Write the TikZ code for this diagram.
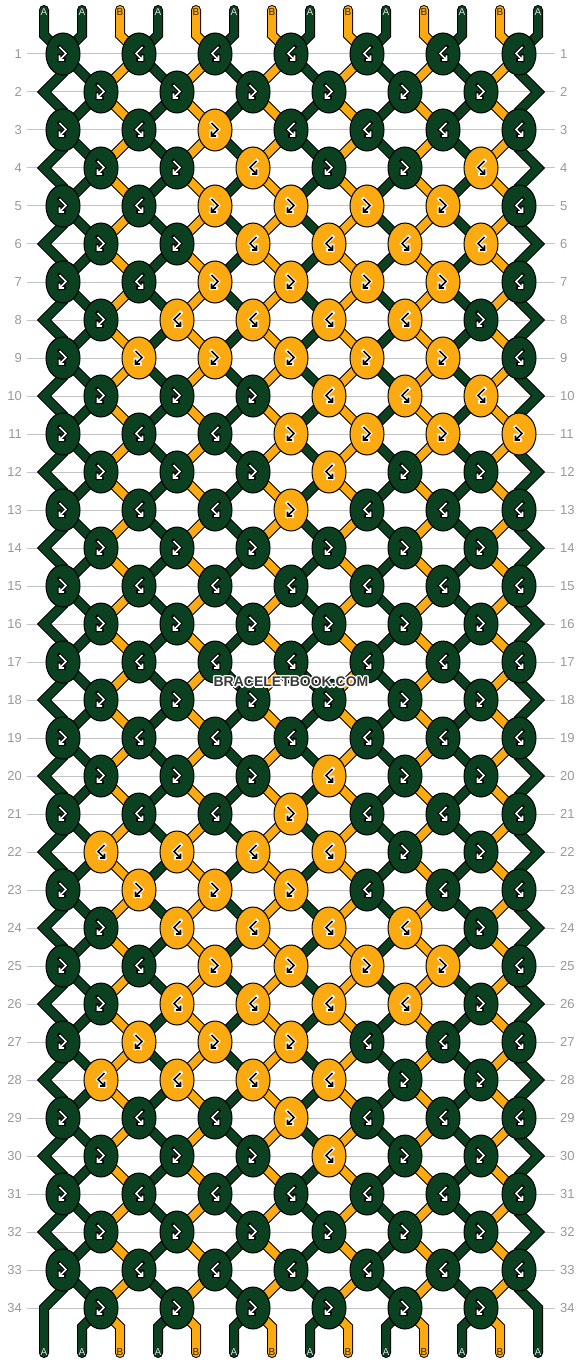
\documentclass[tikz,border=0pt]{standalone}
\usepackage{fontspec}
\setmainfont{Liberation Sans}
\usetikzlibrary{shapes.geometric,calc}
\definecolor{bgreen}{HTML}{0B4121}
\definecolor{borange}{HTML}{FCAA12}
\definecolor{rowgray}{HTML}{999999}
\definecolor{linegray}{HTML}{C4C4C4}
\definecolor{wmgray}{HTML}{3A3A3A}
\newcommand\wmtext{BRACELETBOOK.COM}
\newcommand\wmhalo[2]{\rlap{\kern#1pt\raisebox{#2pt}{\textcolor{white}{\wmtext}}}}
\begin{document}
\begin{tikzpicture}[x=1pt,y=-1pt,
  strandG/.style={draw=black,line width=1pt,double=bgreen,double distance=8pt,line cap=round,line join=miter},
  strandO/.style={draw=black,line width=1pt,double=borange,double distance=8pt,line cap=round,line join=miter},
  knotbox/.style={ellipse,draw=black,line width=1pt,minimum width=34pt,minimum height=42pt,inner sep=0pt},
  rowlab/.style={text=rowgray,font=\fontsize{13}{13}\selectfont,inner sep=0pt},
  strlab/.style={font=\fontsize{10}{10}\selectfont,inner sep=0pt},
  glyphout/.style={line width=3.6pt,line cap=rect,line join=miter},
  glyphin/.style={line width=1.6pt,line cap=butt,line join=miter}]
\path[use as bounding box,fill=white] (0,0) rectangle (582,1364);
% knot positions
\foreach \r in {1,...,34}{
  \pgfmathsetmacro\yy{54+38*(\r-1)}
  \ifodd\r\relax
    \foreach \k in {0,...,6}{\coordinate (p-\r-\k) at ({63+76*\k},\yy);}
  \else
    \foreach \k in {0,...,5}{\coordinate (p-\r-\k) at ({101+76*\k},\yy);}
  \fi
}
% grid lines and row numbers
\foreach \r in {1,...,34}{
  \pgfmathsetmacro\yy{54+38*(\r-1)}
  \draw[linegray,line width=1pt] (27,\yy) -- (555,\yy);
  \node[rowlab,anchor=east] (ll-\r) at (22,\yy) {\r};
  \node[rowlab,anchor=west] (rl-\r) at (560,\yy) {\r};
}
% top strings
\foreach \k in {0,...,6}{
  \ifnum\k=0
    \draw[strandG] (p-1-\k) -- ++(-19,-19) -- ++(0,-25);
  \else
    \draw[strandO] (p-1-\k) -- ++(-19,-19) -- ++(0,-25);
  \fi
  \draw[strandG] (p-1-\k) -- ++(19,-19) -- ++(0,-25);
}
% strands between rows
\foreach \r in {1,...,33}{
  \pgfmathtruncatemacro\n{\r+1}
  \foreach \k in {0,...,5}{
    \pgfmathtruncatemacro\kk{\k+1}
    \draw[strandG] (p-\r-\k) -- (p-\n-\k);
    \ifodd\r\relax
      \draw[strandO] (p-\r-\kk) -- (p-\n-\k);
    \else
      \draw[strandO] (p-\r-\k) -- (p-\n-\kk);
    \fi
  }
}
% edge strands
\foreach \r in {1,3,...,31}{
  \pgfmathtruncatemacro\n{\r+2}
  \draw[strandG] (p-\r-0) -- ++(0,19) -- ++(-19,19) -- ++(19,19) -- (p-\n-0);
  \draw[strandG] (p-\r-6) -- ++(0,19) -- ++(19,19) -- ++(-19,19) -- (p-\n-6);
}
% bottom strings
\draw[strandG] (p-33-0) -- ++(0,19) -- ++(-19,19) -- ++(0,45);
\draw[strandG] (p-33-6) -- ++(0,19) -- ++(19,19) -- ++(0,45);
\foreach \k in {0,...,5}{
  \draw[strandG] (p-34-\k) -- ++(-19,19) -- ++(0,26);
  \draw[strandO] (p-34-\k) -- ++(19,19) -- ++(0,26);
}
% string labels
\foreach \i in {0,...,13}{
  \pgfmathtruncatemacro\isb{(\i>0 && mod(\i,2)==0) ? 1 : 0}
  \ifnum\isb=1
    \node[strlab,text=black!85] (tl-\i) at ({44+38*\i},12.5) {B};
    \node[strlab,text=black!85] (bl-\i) at ({44+38*\i},1352.5) {B};
  \else
    \node[strlab,text=white!85!black] (tl-\i) at ({44+38*\i},12.5) {A};
    \node[strlab,text=white!85!black] (bl-\i) at ({44+38*\i},1352.5) {A};
  \fi
}
% knots
\foreach \r/\pat in {
 1/{0,0,0,0,0,0,0}, 2/{0,0,0,0,0,0}, 3/{0,0,1,0,0,0,0}, 4/{0,0,1,0,0,1},
 5/{0,0,1,1,1,1,0}, 6/{0,0,1,1,1,1}, 7/{0,0,1,1,1,1,0}, 8/{0,1,1,1,1,0},
 9/{0,1,1,1,1,1,0}, 10/{0,0,0,1,1,1}, 11/{0,0,0,1,1,1,1}, 12/{0,0,0,1,0,0},
 13/{0,0,0,1,0,0,0}, 14/{0,0,0,0,0,0}, 15/{0,0,0,0,0,0,0}, 16/{0,0,0,0,0,0},
 17/{0,0,0,0,0,0,0}, 18/{0,0,0,0,0,0}, 19/{0,0,0,0,0,0,0}, 20/{0,0,0,1,0,0},
 21/{0,0,0,1,0,0,0}, 22/{1,1,1,1,0,0}, 23/{0,1,1,1,0,0,0}, 24/{0,1,1,1,1,0},
 25/{0,0,1,1,1,1,0}, 26/{0,1,1,1,1,0}, 27/{0,1,1,1,0,0,0}, 28/{1,1,1,1,0,0},
 29/{0,0,0,1,0,0,0}, 30/{0,0,0,1,0,0}, 31/{0,0,0,0,0,0,0}, 32/{0,0,0,0,0,0},
 33/{0,0,0,0,0,0,0}, 34/{0,0,0,0,0,0}}{
  \foreach \c [count=\k from 0] in \pat {
    \ifodd\r\relax
      \pgfmathtruncatemacro\g{(\c==1 || \k==0) ? 1 : -1}
    \else
      \pgfmathtruncatemacro\g{(\c==0) ? 1 : -1}
    \fi
    \ifnum\c=1
      \node[knotbox,fill=borange] (k-\r-\k) at (p-\r-\k) {};
      \draw[shift={(p-\r-\k)},xscale=\g,glyphout,white] (-3.5,-7) -- (3,-0.5) -- (-3.5,6) (-3.5,1.5) -- (-3.5,6) -- (1,6);
      \draw[shift={(p-\r-\k)},xscale=\g,glyphin,black] (-3.5,-7) -- (3,-0.5) -- (-3.5,6) (-3.5,1.5) -- (-3.5,6) -- (1,6);
    \else
      \node[knotbox,fill=bgreen] (k-\r-\k) at (p-\r-\k) {};
      \draw[shift={(p-\r-\k)},xscale=\g,glyphout,black] (-3.5,-7) -- (3,-0.5) -- (-3.5,6) (-3.5,1.5) -- (-3.5,6) -- (1,6);
      \draw[shift={(p-\r-\k)},xscale=\g,glyphin,white] (-3.5,-7) -- (3,-0.5) -- (-3.5,6) (-3.5,1.5) -- (-3.5,6) -- (1,6);
    \fi
  }
}
% watermark (single node, white halo built inside it)
\node[font=\bfseries\fontsize{14}{14}\selectfont,inner sep=0pt] (wm) at (291,682)
  {\wmhalo{-1}{-1}\wmhalo{-1}{0}\wmhalo{-1}{1}\wmhalo{0}{-1}\wmhalo{0}{1}\wmhalo{1}{-1}\wmhalo{1}{0}\wmhalo{1}{1}\wmhalo{-1.5}{0}\wmhalo{1.5}{0}\wmhalo{0}{1.5}\wmhalo{0}{-1.5}\textcolor{wmgray}{\wmtext}};
\end{tikzpicture}
\end{document}
